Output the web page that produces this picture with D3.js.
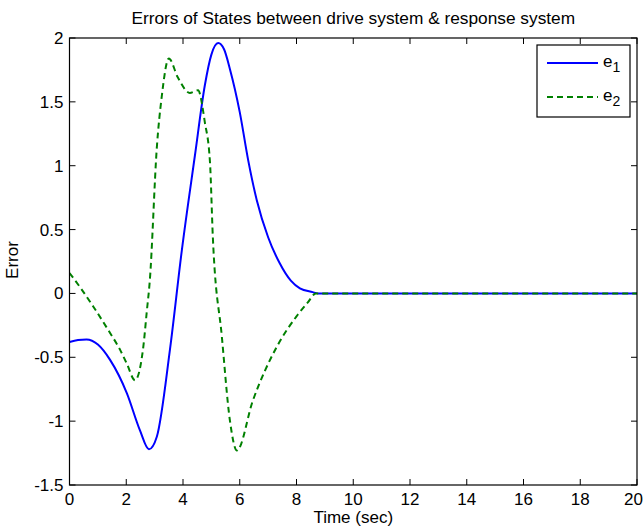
<!DOCTYPE html>
<html><head><meta charset="utf-8">
<script src="https://cdn.jsdelivr.net/npm/d3@7"></script>
<style>body{margin:0;background:#fff}svg{display:block}text{font-family:"Liberation Sans",Arial,sans-serif;fill:#000}</style>
</head><body><svg id="c" width="644" height="531"></svg>
<script>
const e1T = [0,0.3,0.6,1.0,1.43,2.02,2.48,2.8,3.08,3.54,3.96,4.42,4.77,5.0,5.24,5.45,5.65,6.0,6.3,6.6,7.0,7.4,7.8,8.12,8.57,8.75,10,20];
const e1V = [-0.38,-0.365,-0.36,-0.4,-0.52,-0.78,-1.07,-1.22,-1.12,-0.44,0.34,1.08,1.63,1.87,1.96,1.91,1.76,1.42,1.04,0.73,0.44,0.24,0.1,0.04,0.01,0,0,0];
const e2T = [0,0.4,0.83,1.43,1.78,2.02,2.31,2.6,2.72,2.83,3.08,3.25,3.5,3.82,4.24,4.53,4.77,4.95,5.05,5.37,5.65,5.9,6.46,7.3,8.0,8.4,8.68,10,20];
const e2V = [0.16,0.04,-0.1,-0.31,-0.44,-0.55,-0.68,-0.42,-0.15,0.1,1.15,1.54,1.84,1.69,1.57,1.59,1.34,1.03,0.45,-0.34,-0.99,-1.23,-0.84,-0.42,-0.18,-0.07,0,0,0];
const xTicks = [0,2,4,6,8,10,12,14,16,18,20];
const yTicks = [-1.5,-1,-0.5,0,0.5,1,1.5,2];
const titleText = "Errors of States between drive system & response system";
const xLabel = "Time (sec)", yLabel = "Error";
const seriesNames = ["1","2"];

const svg = d3.select("#c");
const L=69.5,R=637,T=38,B=485;
const x = d3.scaleLinear().domain([0,20]).range([L,R]);
const y = d3.scaleLinear().domain([-1.5,2]).range([B,T]);
const tl=6;
const g = svg.append("g");
xTicks.forEach((t,i)=>{
  g.append("line").attr("x1",x(t)).attr("x2",x(t)).attr("y1",B).attr("y2",B-tl).attr("stroke","#000");
  g.append("line").attr("x1",x(t)).attr("x2",x(t)).attr("y1",T).attr("y2",T+tl).attr("stroke","#000");
  const last = i===xTicks.length-1;
  g.append("text").attr("x",last?643:x(t)).attr("y",B+20).attr("text-anchor",last?"end":"middle").attr("font-size",17).text(t);
});
yTicks.forEach(t=>{
  g.append("line").attr("x1",L).attr("x2",L+tl).attr("y1",y(t)).attr("y2",y(t)).attr("stroke","#000");
  g.append("line").attr("x1",R).attr("x2",R-tl).attr("y1",y(t)).attr("y2",y(t)).attr("stroke","#000");
  g.append("text").attr("x",L-6).attr("y",y(t)+6).attr("text-anchor","end").attr("font-size",17).text(t);
});
const line = d3.line().x(d=>x(d[0])).y(d=>y(d[1])).curve(d3.curveMonotoneX);
svg.append("clipPath").attr("id","cp").append("rect").attr("x",L).attr("y",T).attr("width",R-L).attr("height",B-T);
svg.append("path").datum(e1T.map((t,i)=>[t,e1V[i]])).attr("d",line).attr("fill","none").attr("stroke","#0000ff").attr("stroke-width",2).attr("clip-path","url(#cp)");
svg.append("path").datum(e2T.map((t,i)=>[t,e2V[i]])).attr("d",line).attr("fill","none").attr("stroke","#008000").attr("stroke-width",2).attr("stroke-dasharray","6,4").attr("clip-path","url(#cp)");
svg.append("rect").attr("x",L).attr("y",T).attr("width",R-L).attr("height",B-T).attr("fill","none").attr("stroke","#000").attr("stroke-width",1.2);
svg.append("text").attr("x",(L+R)/2).attr("y",24).attr("text-anchor","middle").attr("font-size",17.3).text(titleText);
svg.append("text").attr("x",(L+R)/2).attr("y",523).attr("text-anchor","middle").attr("font-size",17).text(xLabel);
svg.append("text").attr("transform",`translate(17.5,260) rotate(-90)`).attr("text-anchor","middle").attr("font-size",17).text(yLabel);
const lg = svg.append("g");
lg.append("rect").attr("x",537).attr("y",45).attr("width",93).attr("height",72).attr("fill","#fff").attr("stroke","#000").attr("stroke-width",1.2);
const lc=["#0000ff","#008000"], ld=[null,"6,4"];
seriesNames.forEach((n,i)=>{
  const yy = 63+i*34;
  lg.append("line").attr("x1",547).attr("x2",598).attr("y1",yy).attr("y2",yy).attr("stroke",lc[i]).attr("stroke-width",2).attr("stroke-dasharray",ld[i]);
  const t = lg.append("text").attr("x",603).attr("y",yy+4).attr("font-size",17);
  t.append("tspan").text("e");
  t.append("tspan").attr("dy",5).attr("font-size",14).text(n);
});
</script></body></html>
